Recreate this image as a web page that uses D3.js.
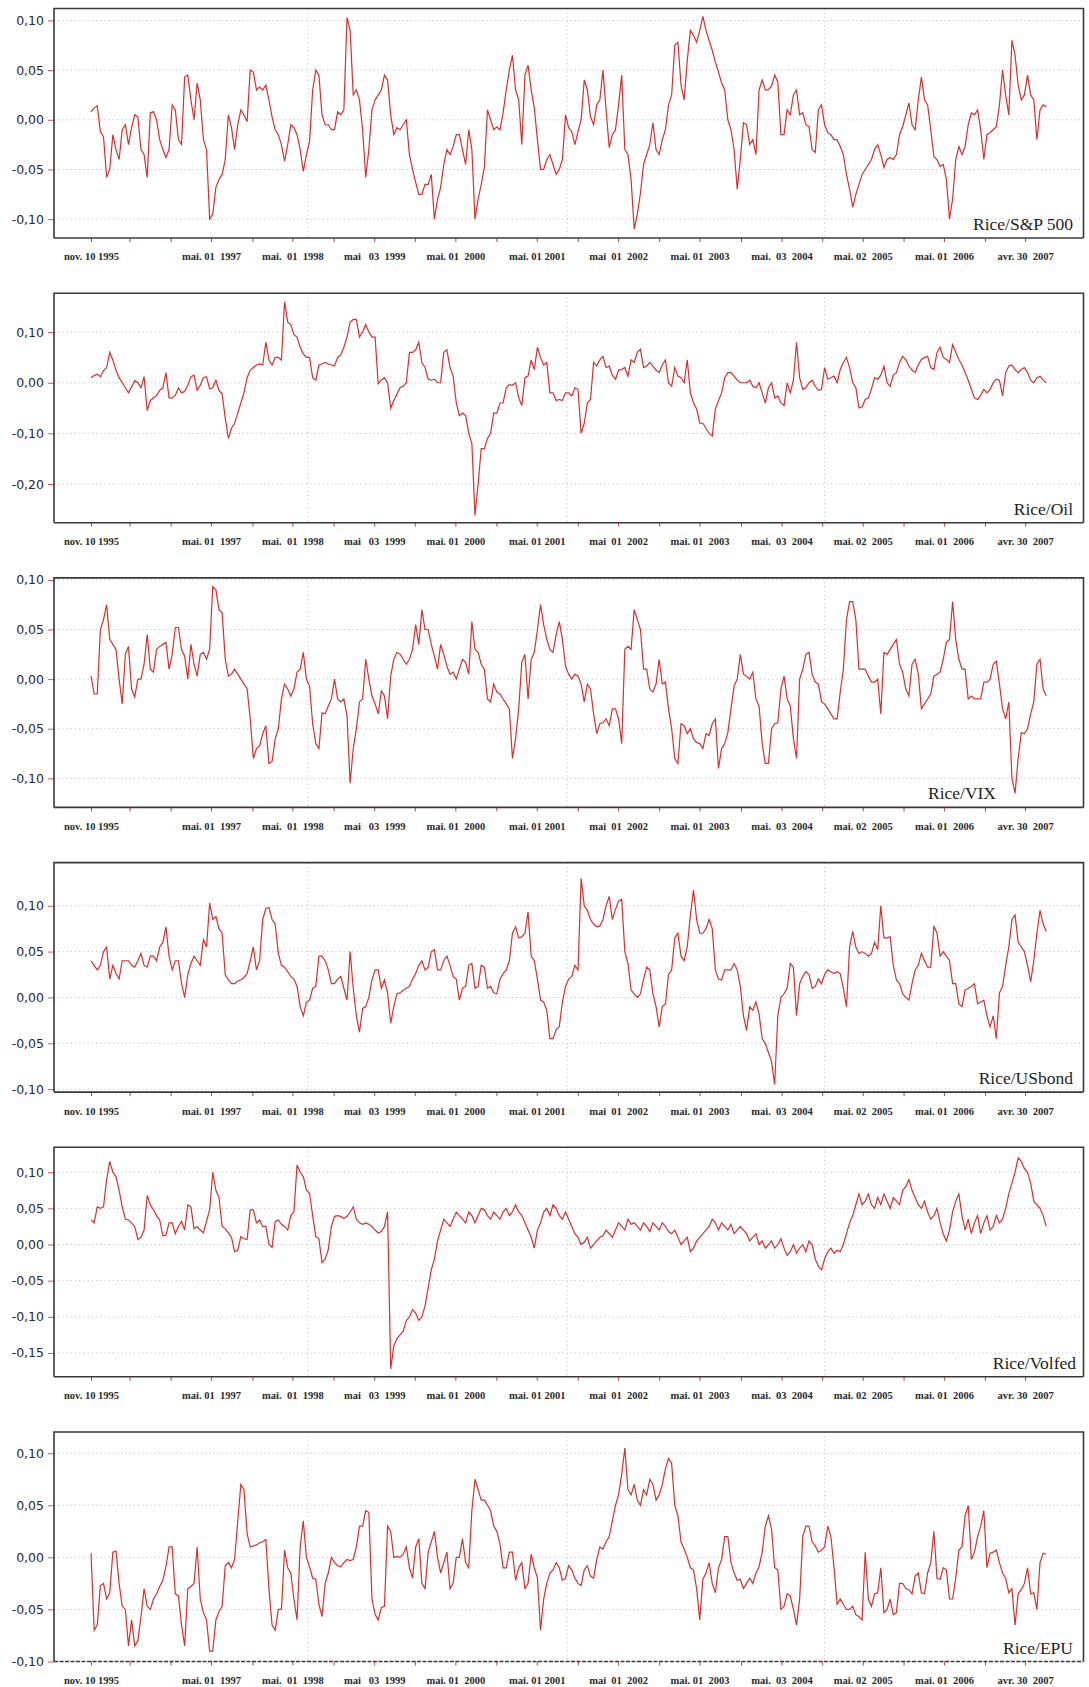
<!DOCTYPE html>
<html>
<head>
<meta charset="utf-8">
<script src="https://cdn.jsdelivr.net/npm/d3@7"></script>
<style>
  body { margin: 0; background: #fff; }
  svg { display: block; }
  .xlab text { white-space: pre; }
</style>
</head>
<body>
<svg id="chart" width="1089" height="1687"></svg>
<script>
// Rolling correlation of rice returns with six financial/uncertainty series,
// one observation every 14 days starting 10 Nov 1995.
const obsStart = "1995-11-10";
const obsStepDays = 14;

const seriesTitles = ["Rice/S&P 500", "Rice/Oil", "Rice/VIX", "Rice/USbond", "Rice/Volfed", "Rice/EPU"];

const riceSP500 = [
  0.008, 0.012, 0.014, -0.012, -0.017, -0.058, -0.05, -0.015, -0.03, -0.04,
  -0.01, -0.005, -0.025, -0.008, 0.005, 0.003, -0.03, -0.035, -0.058, 0.007,
  0.008, 0.0, -0.02, -0.03, -0.038, -0.03, 0.015, 0.01, -0.02, -0.025,
  0.043, 0.045, 0.02, 0.0, 0.037, 0.02, -0.02, -0.03, -0.1, -0.095,
  -0.068, -0.06, -0.055, -0.04, 0.005, -0.008, -0.03, -0.005, 0.01, 0.005,
  -0.002, 0.05, 0.048, 0.03, 0.033, 0.03, 0.035, 0.02, 0.003, -0.01,
  -0.015, -0.025, -0.042, -0.025, -0.005, -0.008, -0.015, -0.03, -0.052, -0.035,
  -0.022, 0.03, 0.05, 0.045, 0.005, -0.005, -0.005, -0.01, -0.01, 0.008,
  0.005, 0.01, 0.103, 0.09, 0.025, 0.03, 0.02, -0.01, -0.058, -0.03,
  0.01, 0.02, 0.025, 0.03, 0.045, 0.04, 0.005, -0.015, -0.008, -0.01,
  -0.005, 0.0, -0.035, -0.05, -0.063, -0.075, -0.075, -0.065, -0.065, -0.055,
  -0.1, -0.08, -0.068, -0.045, -0.03, -0.035, -0.027, -0.015, -0.015, -0.03,
  -0.045, -0.01, -0.03, -0.1, -0.08, -0.065, -0.048, 0.01, 0.0, -0.01,
  -0.007, -0.01, 0.007, 0.03, 0.05, 0.065, 0.03, 0.02, -0.025, 0.045,
  0.055, 0.03, 0.012, -0.02, -0.05, -0.05, -0.04, -0.035, -0.045, -0.055,
  -0.05, -0.04, 0.005, -0.008, -0.012, -0.025, -0.012, 0.0, 0.04, 0.03,
  0.003, -0.005, 0.015, 0.02, 0.05, 0.01, -0.028, -0.015, -0.01, 0.015,
  0.045, -0.03, -0.035, -0.06, -0.11, -0.095, -0.074, -0.045, -0.035, -0.025,
  -0.003, -0.03, -0.035, -0.02, -0.01, 0.015, 0.025, 0.075, 0.078, 0.035,
  0.02, 0.06, 0.09, 0.085, 0.078, 0.09, 0.104, 0.09, 0.08, 0.07,
  0.058, 0.048, 0.037, 0.03, 0.0, -0.01, -0.03, -0.07, -0.04, -0.003,
  -0.005, -0.025, -0.02, -0.035, 0.03, 0.04, 0.03, 0.03, 0.034, 0.045,
  0.038, -0.015, -0.015, 0.01, 0.005, 0.025, 0.03, 0.005, 0.007, -0.005,
  -0.007, -0.03, -0.033, 0.01, 0.015, -0.005, -0.013, -0.015, -0.02, -0.02,
  -0.027, -0.035, -0.055, -0.07, -0.088, -0.075, -0.065, -0.055, -0.05, -0.045,
  -0.04, -0.03, -0.025, -0.035, -0.048, -0.04, -0.038, -0.04, -0.035, -0.015,
  -0.007, 0.005, 0.017, -0.005, -0.01, 0.02, 0.043, 0.02, 0.015, -0.01,
  -0.037, -0.04, -0.047, -0.045, -0.06, -0.1, -0.08, -0.04, -0.027, -0.035,
  -0.027, -0.005, 0.007, 0.005, 0.01, -0.01, -0.04, -0.015, -0.013, -0.01,
  -0.007, 0.015, 0.05, 0.025, 0.005, 0.08, 0.065, 0.035, 0.02, 0.025,
  0.045, 0.025, 0.02, -0.02, 0.01, 0.015, 0.013
];

const riceOil = [
  0.01, 0.014, 0.017, 0.012, 0.024, 0.03, 0.06, 0.045, 0.025, 0.01,
  0.0, -0.01, -0.02, -0.008, 0.004, 0.0, -0.01, 0.012, -0.055, -0.035,
  -0.03, -0.025, -0.015, -0.01, 0.02, -0.03, -0.03, -0.025, -0.01, -0.02,
  -0.017, -0.005, 0.012, 0.015, -0.015, -0.005, 0.01, 0.012, -0.012, -0.01,
  0.005, -0.015, -0.022, -0.07, -0.11, -0.09, -0.08, -0.06, -0.04, -0.02,
  0.01, 0.025, 0.03, 0.035, 0.037, 0.035, 0.08, 0.045, 0.035, 0.05,
  0.05, 0.045, 0.16, 0.12, 0.115, 0.095, 0.09, 0.07, 0.057, 0.05,
  0.05, 0.01, 0.005, 0.035, 0.037, 0.04, 0.037, 0.035, 0.033, 0.05,
  0.055, 0.07, 0.09, 0.12, 0.125, 0.125, 0.09, 0.1, 0.115, 0.1,
  0.09, 0.09, -0.002, 0.005, 0.01, 0.0, -0.05, -0.035, -0.022, -0.01,
  -0.007, 0.0, 0.06, 0.06, 0.065, 0.08, 0.04, 0.03, 0.007, 0.005,
  0.007, 0.0, 0.0, 0.06, 0.065, 0.03, 0.013, -0.04, -0.065, -0.06,
  -0.065, -0.1, -0.12, -0.262, -0.2, -0.13, -0.13, -0.11, -0.1, -0.06,
  -0.06, -0.04, -0.04, -0.01, -0.004, -0.005, 0.0, -0.03, -0.045, 0.01,
  0.013, 0.045, 0.026, 0.07, 0.05, 0.035, 0.04, -0.02, -0.02, -0.035,
  -0.033, -0.035, -0.02, -0.02, -0.026, -0.01, -0.013, -0.1, -0.08, -0.04,
  -0.033, 0.04, 0.033, 0.045, 0.052, 0.03, 0.033, 0.015, 0.007, 0.025,
  0.026, 0.03, 0.013, 0.045, 0.04, 0.06, 0.066, 0.03, 0.033, 0.04,
  0.033, 0.025, 0.02, 0.035, 0.045, 0.0, -0.007, 0.03, 0.013, 0.01,
  0.0, 0.045, -0.02, -0.04, -0.052, -0.08, -0.08, -0.09, -0.1, -0.105,
  -0.052, -0.035, -0.02, 0.01, 0.02, 0.02, 0.013, 0.005, 0.0, 0.0,
  0.0, 0.005, -0.007, -0.01, 0.0, -0.02, -0.04, -0.01, 0.0, -0.03,
  -0.026, -0.04, -0.045, 0.0, -0.02, 0.005, 0.08, 0.01, -0.013, -0.01,
  0.0, 0.005, -0.007, -0.015, -0.013, 0.03, 0.007, 0.01, 0.013, 0.0,
  0.026, 0.04, 0.05, 0.03, 0.0, -0.01, -0.05, -0.048, -0.033, -0.03,
  -0.013, 0.01, 0.007, 0.015, 0.033, 0.0, -0.007, 0.015, 0.02, 0.04,
  0.052, 0.045, 0.033, 0.025, 0.02, 0.035, 0.046, 0.05, 0.052, 0.03,
  0.026, 0.06, 0.07, 0.05, 0.046, 0.04, 0.075, 0.06, 0.046, 0.035,
  0.02, 0.005, -0.013, -0.03, -0.033, -0.025, -0.013, -0.02, -0.013, 0.0,
  0.007, 0.005, -0.026, 0.02, 0.033, 0.035, 0.026, 0.02, 0.026, 0.03,
  0.02, 0.005, 0.0, 0.01, 0.013, 0.005, 0.0
];

const riceVIX = [
  0.003, -0.015, -0.015, 0.05, 0.06, 0.075, 0.04, 0.035, 0.03, 0.0,
  -0.025, 0.025, 0.033, -0.01, -0.018, 0.0, 0.0, 0.015, 0.045, 0.01,
  0.007, 0.03, 0.033, 0.035, 0.037, 0.01, 0.025, 0.052, 0.052, 0.03,
  0.023, 0.0, 0.035, 0.015, 0.003, 0.025, 0.027, 0.02, 0.03, 0.093,
  0.09, 0.07, 0.067, 0.02, 0.003, 0.005, 0.01, 0.005, 0.0, -0.005,
  -0.01, -0.04, -0.08, -0.07, -0.067, -0.055, -0.047, -0.085, -0.083, -0.06,
  -0.05, -0.02, -0.005, -0.01, -0.017, -0.01, 0.007, 0.01, 0.027, 0.0,
  -0.007, -0.045, -0.065, -0.07, -0.034, -0.035, -0.027, -0.02, 0.0, -0.02,
  -0.023, -0.02, -0.037, -0.105, -0.07, -0.05, -0.023, -0.02, 0.02, 0.0,
  -0.017, -0.025, -0.035, -0.012, -0.017, -0.04, 0.003, 0.02, 0.027, 0.025,
  0.02, 0.015, 0.02, 0.03, 0.055, 0.035, 0.07, 0.05, 0.05, 0.035,
  0.023, 0.01, 0.035, 0.025, 0.013, 0.005, 0.007, 0.0, 0.01, 0.02,
  0.017, 0.005, 0.058, 0.03, 0.027, 0.015, 0.01, -0.02, -0.023, -0.005,
  -0.013, -0.015, -0.02, -0.025, -0.03, -0.08, -0.06, -0.03, 0.017, 0.025,
  -0.02, 0.02, 0.027, 0.05, 0.075, 0.055, 0.04, 0.03, 0.027, 0.045,
  0.058, 0.04, 0.013, 0.005, 0.0, 0.005, 0.003, -0.005, -0.023, -0.005,
  -0.01, -0.035, -0.055, -0.045, -0.044, -0.04, -0.047, -0.03, -0.03, -0.04,
  -0.065, 0.03, 0.033, 0.03, 0.07, 0.06, 0.05, 0.01, 0.01, -0.01,
  -0.013, -0.005, 0.02, -0.005, -0.003, -0.03, -0.05, -0.08, -0.085, -0.045,
  -0.047, -0.055, -0.05, -0.06, -0.064, -0.065, -0.07, -0.055, -0.057, -0.045,
  -0.04, -0.09, -0.07, -0.065, -0.054, -0.03, -0.007, 0.0, 0.025, 0.005,
  0.003, 0.0, 0.007, -0.02, -0.027, -0.065, -0.085, -0.085, -0.05, -0.045,
  -0.044, -0.01, 0.003, -0.02, -0.027, -0.06, -0.08, 0.0, 0.01, 0.025,
  0.027, 0.005, -0.003, -0.005, -0.023, -0.025, -0.03, -0.035, -0.04, -0.04,
  -0.013, 0.01, 0.06, 0.078, 0.078, 0.06, 0.01, 0.01, 0.01, 0.003,
  -0.003, -0.003, 0.0, -0.035, 0.027, 0.025, 0.03, 0.035, 0.04, 0.015,
  0.007, -0.01, -0.017, 0.015, 0.02, 0.005, -0.03, -0.025, -0.02, -0.015,
  0.003, 0.005, 0.007, 0.02, 0.037, 0.04, 0.078, 0.04, 0.02, 0.01,
  0.01, -0.02, -0.017, -0.02, -0.02, -0.02, -0.003, -0.003, 0.0, 0.015,
  0.018, -0.005, -0.03, -0.04, -0.023, -0.1, -0.115, -0.08, -0.054, -0.055,
  -0.05, -0.035, -0.023, 0.015, 0.02, -0.01, -0.017
];

const riceUSbond = [
  0.04, 0.035, 0.03, 0.035, 0.05, 0.055, 0.02, 0.035, 0.026, 0.02,
  0.04, 0.04, 0.04, 0.035, 0.033, 0.04, 0.048, 0.035, 0.033, 0.045,
  0.045, 0.04, 0.055, 0.06, 0.077, 0.045, 0.03, 0.04, 0.04, 0.015,
  0.0, 0.025, 0.037, 0.045, 0.04, 0.035, 0.063, 0.055, 0.103, 0.085,
  0.088, 0.075, 0.07, 0.025, 0.019, 0.015, 0.015, 0.018, 0.019, 0.022,
  0.026, 0.04, 0.055, 0.03, 0.04, 0.085, 0.097, 0.098, 0.085, 0.08,
  0.048, 0.035, 0.033, 0.028, 0.023, 0.02, 0.012, -0.01, -0.02, -0.005,
  -0.003, 0.01, 0.012, 0.045, 0.045, 0.04, 0.03, 0.015, 0.015, 0.02,
  0.023, 0.01, -0.003, 0.05, 0.01, -0.02, -0.038, -0.012, -0.01, 0.0,
  0.019, 0.03, 0.03, 0.01, 0.019, 0.005, -0.028, -0.01, 0.004, 0.005,
  0.008, 0.01, 0.012, 0.02, 0.026, 0.035, 0.04, 0.03, 0.033, 0.05,
  0.052, 0.03, 0.03, 0.04, 0.045, 0.035, 0.023, 0.02, -0.003, 0.01,
  0.012, 0.035, 0.037, 0.01, 0.012, 0.035, 0.033, 0.01, 0.012, 0.005,
  0.004, 0.02, 0.026, 0.03, 0.04, 0.07, 0.077, 0.065, 0.066, 0.07,
  0.093, 0.045, 0.04, 0.02, -0.003, -0.005, -0.014, -0.045, -0.045, -0.035,
  -0.032, -0.005, 0.012, 0.02, 0.023, 0.035, 0.03, 0.13, 0.1, 0.095,
  0.085, 0.08, 0.077, 0.078, 0.085, 0.1, 0.11, 0.085, 0.096, 0.105,
  0.107, 0.05, 0.037, 0.008, 0.004, 0.0, 0.004, 0.02, 0.033, 0.03,
  0.004, -0.01, -0.032, -0.01, -0.007, 0.025, 0.03, 0.065, 0.07, 0.045,
  0.04, 0.055, 0.09, 0.117, 0.085, 0.07, 0.07, 0.075, 0.085, 0.075,
  0.03, 0.02, 0.019, 0.03, 0.03, 0.03, 0.037, 0.03, 0.012, -0.02,
  -0.036, -0.01, -0.014, -0.005, -0.018, -0.045, -0.05, -0.06, -0.07, -0.095,
  -0.02, 0.0, 0.004, 0.01, 0.037, 0.033, -0.02, 0.015, 0.023, 0.028,
  0.025, 0.01, 0.012, 0.02, 0.015, 0.025, 0.03, 0.028, 0.026, 0.028,
  0.026, 0.01, -0.01, 0.055, 0.072, 0.055, 0.048, 0.05, 0.048, 0.045,
  0.048, 0.06, 0.052, 0.1, 0.065, 0.065, 0.066, 0.035, 0.019, 0.015,
  0.004, 0.0, -0.003, 0.015, 0.03, 0.035, 0.048, 0.04, 0.033, 0.033,
  0.078, 0.07, 0.045, 0.05, 0.045, 0.04, 0.015, 0.015, -0.007, -0.01,
  0.008, 0.01, 0.012, 0.015, -0.007, -0.005, -0.003, -0.02, -0.032, -0.02,
  -0.045, 0.005, 0.012, 0.035, 0.055, 0.085, 0.09, 0.06, 0.055, 0.05,
  0.035, 0.017, 0.04, 0.07, 0.095, 0.08, 0.072
];

const riceVolfed = [
  0.034, 0.03, 0.052, 0.05, 0.052, 0.09, 0.115, 0.1, 0.094, 0.075,
  0.052, 0.035, 0.034, 0.03, 0.025, 0.007, 0.01, 0.02, 0.068, 0.055,
  0.048, 0.04, 0.034, 0.012, 0.013, 0.03, 0.03, 0.015, 0.025, 0.032,
  0.02, 0.055, 0.052, 0.022, 0.025, 0.02, 0.016, 0.032, 0.048, 0.1,
  0.075, 0.065, 0.025, 0.022, 0.016, 0.01, -0.01, -0.008, 0.011, 0.008,
  0.007, 0.048, 0.048, 0.03, 0.034, 0.025, 0.025, 0.0, -0.004, 0.032,
  0.034, 0.028, 0.025, 0.02, 0.04, 0.045, 0.11, 0.1, 0.094, 0.075,
  0.071, 0.04, 0.011, 0.008, -0.025, -0.02, -0.007, 0.025, 0.039, 0.04,
  0.039, 0.036, 0.039, 0.045, 0.052, 0.035, 0.03, 0.028, 0.03, 0.028,
  0.025, 0.02, 0.016, 0.018, 0.025, 0.045, -0.172, -0.14, -0.13, -0.125,
  -0.12, -0.105, -0.1, -0.09, -0.095, -0.105, -0.1, -0.085, -0.06, -0.035,
  -0.02, 0.005, 0.02, 0.035, 0.03, 0.025, 0.035, 0.045, 0.04, 0.035,
  0.03, 0.045, 0.04, 0.03, 0.04, 0.05, 0.048, 0.04, 0.035, 0.045,
  0.04, 0.035, 0.045, 0.05, 0.04, 0.045, 0.055, 0.045, 0.04, 0.03,
  0.02, 0.01, -0.005, 0.02, 0.03, 0.045, 0.05, 0.04, 0.055, 0.05,
  0.04, 0.035, 0.045, 0.035, 0.025, 0.015, 0.01, 0.0, 0.003, 0.01,
  -0.005, 0.0, 0.005, 0.01, 0.012, 0.02, 0.015, 0.01, 0.02, 0.03,
  0.025, 0.02, 0.035, 0.028, 0.03, 0.025, 0.02, 0.03, 0.025, 0.018,
  0.03, 0.025, 0.02, 0.03, 0.025, 0.018, 0.015, 0.02, 0.01, 0.0,
  0.005, 0.01, -0.01, -0.005, 0.005, 0.01, 0.015, 0.02, 0.025, 0.035,
  0.03, 0.02, 0.03, 0.025, 0.02, 0.028, 0.015, 0.02, 0.025, 0.02,
  0.015, 0.005, 0.01, 0.015, 0.0, 0.005, -0.005, 0.0, 0.005, -0.005,
  0.0, 0.008, -0.005, -0.015, -0.01, 0.0, -0.012, -0.005, 0.0, -0.01,
  0.005, 0.0, -0.02, -0.03, -0.035, -0.02, -0.01, -0.005, -0.012, -0.008,
  -0.01, 0.0, 0.015, 0.03, 0.04, 0.055, 0.07, 0.055, 0.06, 0.07,
  0.055, 0.05, 0.065, 0.055, 0.07, 0.06, 0.05, 0.065, 0.06, 0.055,
  0.075, 0.08, 0.09, 0.075, 0.065, 0.055, 0.05, 0.06, 0.045, 0.035,
  0.04, 0.05, 0.03, 0.015, 0.005, 0.02, 0.045, 0.06, 0.07, 0.04,
  0.02, 0.035, 0.015, 0.03, 0.04, 0.015, 0.03, 0.04, 0.02, 0.025,
  0.04, 0.03, 0.035, 0.05, 0.07, 0.085, 0.1, 0.12, 0.115, 0.105,
  0.1, 0.085, 0.06, 0.055, 0.05, 0.04, 0.025
];

const riceEPU = [
  0.004, -0.07, -0.065, -0.027, -0.025, -0.04, -0.034, 0.005, 0.006, -0.025,
  -0.047, -0.05, -0.085, -0.06, -0.085, -0.08, -0.057, -0.03, -0.047, -0.05,
  -0.04, -0.035, -0.028, -0.022, -0.009, 0.01, 0.01, -0.035, -0.037, -0.065,
  -0.085, -0.03, -0.028, -0.025, 0.01, -0.04, -0.053, -0.06, -0.09, -0.09,
  -0.06, -0.052, -0.047, -0.008, -0.005, -0.01, -0.002, 0.035, 0.07, 0.065,
  0.023, 0.01, 0.011, 0.012, 0.014, 0.015, 0.017, -0.03, -0.065, -0.07,
  -0.05, -0.05, 0.007, -0.01, -0.015, -0.04, -0.06, 0.01, 0.035, 0.0,
  -0.009, -0.02, -0.021, -0.045, -0.057, -0.025, -0.015, 0.0, -0.005, -0.008,
  -0.009, -0.005, -0.002, -0.003, -0.002, 0.01, 0.03, 0.03, 0.045, 0.043,
  -0.04, -0.055, -0.06, -0.048, -0.047, 0.03, 0.025, 0.0, 0.001, 0.0,
  0.003, 0.01, -0.01, -0.02, 0.01, 0.018, -0.025, -0.03, 0.005, 0.015,
  0.025, 0.0, -0.015, -0.005, 0.005, -0.03, -0.025, 0.0, 0.0, 0.018,
  -0.005, -0.01, 0.045, 0.075, 0.065, 0.055, 0.055, 0.05, 0.045, 0.03,
  0.025, 0.013, -0.01, -0.01, 0.005, 0.005, -0.022, -0.01, -0.005, -0.03,
  -0.025, 0.003, -0.01, -0.02, -0.07, -0.04, -0.025, -0.015, -0.012, -0.005,
  -0.01, -0.022, -0.02, -0.008, -0.012, -0.02, -0.025, -0.027, -0.012, -0.008,
  -0.018, -0.02, -0.002, 0.01, 0.008, 0.015, 0.02, 0.035, 0.05, 0.06,
  0.08, 0.105, 0.065, 0.06, 0.07, 0.055, 0.05, 0.065, 0.06, 0.075,
  0.07, 0.055, 0.06, 0.07, 0.085, 0.095, 0.09, 0.05, 0.04, 0.015,
  0.008, 0.0, -0.01, -0.012, -0.03, -0.06, -0.021, -0.015, -0.005, -0.025,
  -0.034, -0.01, -0.002, 0.02, 0.02, -0.005, -0.015, -0.022, -0.021, -0.03,
  -0.025, -0.02, -0.025, -0.015, -0.009, 0.005, 0.03, 0.04, 0.027, -0.01,
  -0.012, -0.05, -0.047, -0.035, -0.037, -0.05, -0.065, -0.04, 0.02, 0.03,
  0.03, 0.015, 0.011, 0.005, 0.007, 0.01, 0.03, 0.02, -0.009, -0.045,
  -0.04, -0.045, -0.05, -0.05, -0.047, -0.055, -0.057, -0.06, 0.005, -0.04,
  -0.047, -0.035, -0.034, -0.01, -0.053, -0.05, -0.04, -0.055, -0.053, -0.025,
  -0.025, -0.03, -0.031, -0.035, -0.018, -0.015, -0.034, -0.035, -0.015, -0.005,
  0.025, -0.02, -0.021, -0.01, -0.012, -0.04, -0.04, -0.02, 0.007, 0.01,
  0.04, 0.05, -0.002, 0.005, 0.02, 0.03, 0.045, -0.01, 0.004, 0.005,
  0.007, -0.005, -0.015, -0.02, -0.034, -0.03, -0.065, -0.035, -0.031, -0.025,
  -0.01, -0.035, -0.034, -0.05, -0.005, 0.004, 0.003
];

// y-axis tick values of each panel
const yTicksSP500  = [0.10, 0.05, 0, -0.05, -0.10];
const yTicksOil    = [0.10, 0, -0.10, -0.20];
const yTicksVIX    = [0.10, 0.05, 0, -0.05, -0.10];
const yTicksUSbond = [0.10, 0.05, 0, -0.05, -0.10];
const yTicksVolfed = [0.10, 0.05, 0, -0.05, -0.10, -0.15];
const yTicksEPU    = [0.10, 0.05, 0, -0.05, -0.10];

// y extent shown by each panel
const yExtentSP500  = [-0.119, 0.112];
const yExtentOil    = [-0.2764, 0.1768];
const yExtentVIX    = [-0.1293, 0.102];
const yExtentUSbond = [-0.1032, 0.147];
const yExtentVolfed = [-0.183, 0.1345];
const yExtentEPU    = [-0.10, 0.1204];

// x axis: labelled dates, extra half-year tick marks, vertical guide lines
const xLabelDates = ["1995-11-10", "1997-05-01", "1998-05-01", "1999-05-03", "2000-05-01", "2001-05-01",
                     "2002-05-01", "2003-05-01", "2004-05-03", "2005-05-02", "2006-05-01", "2007-04-30"];
const xLabelTexts = ["nov. 10 1995", "mai. 01  1997", "mai.  01  1998", "mai   03  1999", "mai. 01  2000", "mai. 01 2001",
                     "mai  01  2002", "mai. 01  2003", "mai.  03  2004", "mai. 02  2005", "mai. 01  2006", "avr. 30  2007"];
const xMinorTickDates = ["1996-05-01", "1996-11-01", "1997-11-03", "1998-11-02", "1999-11-01", "2000-11-01",
                         "2001-11-01", "2002-11-01", "2003-11-03", "2004-11-01", "2005-11-01", "2006-11-01"];
const xGuideDates = ["1998-07-10", "2001-09-14", "2004-11-12"];
const xDomain = ["1995-05-28", "2008-01-17"];

const parse = d3.timeParse("%Y-%m-%d");
const fmt = d3.formatLocale({decimal: ",", thousands: ".", grouping: [3], currency: ["", ""], minus: "-"}).format(".2f");

const panels = [
  {title: seriesTitles[0], values: riceSP500,  ticks: yTicksSP500,  extent: yExtentSP500,  titleRight: 1073},
  {title: seriesTitles[1], values: riceOil,    ticks: yTicksOil,    extent: yExtentOil,    titleRight: 1073},
  {title: seriesTitles[2], values: riceVIX,    ticks: yTicksVIX,    extent: yExtentVIX,    titleRight: 996},
  {title: seriesTitles[3], values: riceUSbond, ticks: yTicksUSbond, extent: yExtentUSbond, titleRight: 1073},
  {title: seriesTitles[4], values: riceVolfed, ticks: yTicksVolfed, extent: yExtentVolfed, titleRight: 1076},
  {title: seriesTitles[5], values: riceEPU,    ticks: yTicksEPU,    extent: yExtentEPU,    titleRight: 1073}
];

const left = 54, right = 1083.5, firstTop = 8.5, pitch = 284.7, panelH = 229.5;
const lineColor = "#d7302f";

const svg = d3.select("#chart");
const x = d3.scaleTime().domain(xDomain.map(parse)).range([left, right]);
const start = parse(obsStart);

const labelDates = xLabelDates.map(parse);
const allTickDates = labelDates.concat(xMinorTickDates.map(parse)).sort((a, b) => a - b);

panels.forEach((p, i) => {
  const top = firstTop + i * pitch, bottom = top + panelH;
  const y = d3.scaleLinear().domain(p.extent).range([bottom, top]);
  const g = svg.append("g");

  // dotted guides
  g.append("g").selectAll("line").data(p.ticks).join("line")
    .attr("x1", left).attr("x2", right)
    .attr("y1", d => y(d)).attr("y2", d => y(d))
    .attr("stroke", "#c4c4c4").attr("stroke-width", 1).attr("stroke-dasharray", "1.2,3");
  g.append("g").selectAll("line").data(xGuideDates.map(parse)).join("line")
    .attr("x1", d => x(d)).attr("x2", d => x(d))
    .attr("y1", top).attr("y2", bottom)
    .attr("stroke", "#c4c4c4").attr("stroke-width", 1).attr("stroke-dasharray", "1.2,3");

  // series
  const line = d3.line()
    .x((d, k) => x(d3.timeDay.offset(start, k * obsStepDays)))
    .y(d => y(d));
  g.append("path").datum(p.values)
    .attr("d", line)
    .attr("fill", "none").attr("stroke", lineColor)
    .attr("stroke-width", 1.2).attr("stroke-linejoin", "miter");

  // y axis
  const ya = g.append("g").attr("transform", `translate(${left},0)`)
    .call(d3.axisLeft(y).tickValues(p.ticks).tickSize(6).tickPadding(4).tickFormat(fmt));
  ya.select(".domain").remove();
  ya.selectAll(".tick line").attr("stroke", "#d9534f");
  ya.selectAll(".tick text").attr("fill", "#1f2544")
    .style("font-family", "'DejaVu Sans', Verdana, sans-serif").style("font-size", "12.5px");

  // x tick marks
  const xt = g.append("g").attr("transform", `translate(0,${bottom})`)
    .call(d3.axisBottom(x).tickValues(allTickDates).tickSize(4).tickFormat(""));
  xt.select(".domain").remove();
  xt.selectAll(".tick line").attr("stroke", "#b8413f");

  // x labels
  const xl = g.append("g").attr("class", "xlab").attr("transform", `translate(0,${bottom})`)
    .call(d3.axisBottom(x).tickValues(labelDates).tickSize(0).tickPadding(15)
      .tickFormat((d, k) => xLabelTexts[k]));
  xl.select(".domain").remove();
  xl.selectAll(".tick text").attr("fill", "#2a2a2a")
    .style("font-family", "'Liberation Serif', 'DejaVu Serif', serif")
    .style("font-weight", "bold").style("font-size", "10.5px");

  // frame
  const last = i === panels.length - 1;
  g.append("path")
    .attr("d", `M${left},${bottom}V${top}H${right}V${bottom}`)
    .attr("fill", "none").attr("stroke", "#383838").attr("stroke-width", 1.6);
  g.append("line")
    .attr("x1", left).attr("x2", right).attr("y1", bottom).attr("y2", bottom)
    .attr("stroke", "#383838").attr("stroke-width", 1.6)
    .attr("stroke-dasharray", last ? "4,1.5" : null);

  // panel title
  g.append("text")
    .attr("x", p.titleRight).attr("y", bottom - 8)
    .attr("text-anchor", "end")
    .attr("fill", "#1e1e1e")
    .style("font-family", "'Liberation Serif', 'DejaVu Serif', serif")
    .style("font-size", "17.5px")
    .text(p.title);
});
</script>
</body>
</html>
